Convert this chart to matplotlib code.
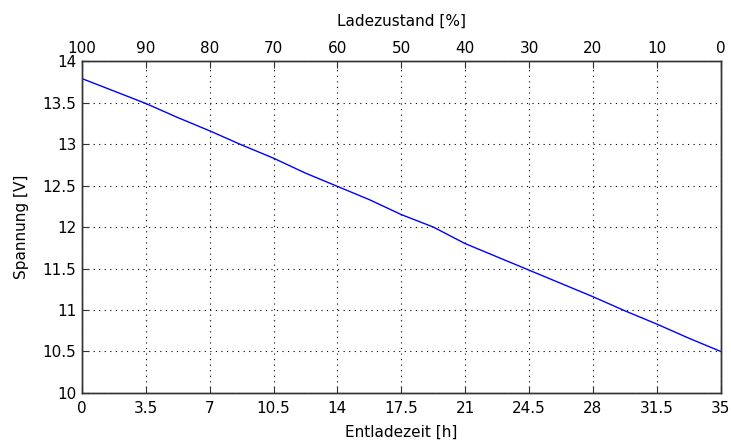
import numpy as np
import matplotlib.pyplot as plt

# Entladekurve
zeit_h = [0, 1.75, 3.5, 5.25, 7, 8.75, 10.5, 12.25, 14, 15.75, 17.5,
          19.25, 21, 22.75, 24.5, 26.25, 28, 29.75, 31.5, 33.25, 35]
spannung_v = [13.79, 13.64, 13.49, 13.32, 13.16, 12.99, 12.83, 12.65, 12.49, 12.33, 12.15,
              12.00, 11.80, 11.64, 11.48, 11.32, 11.16, 10.99, 10.83, 10.66, 10.50]

x_ticks = [0, 3.5, 7, 10.5, 14, 17.5, 21, 24.5, 28, 31.5, 35]
x_ticklabels = ["0", "3.5", "7", "10.5", "14", "17.5", "21", "24.5", "28", "31.5", "35"]
y_ticks = [10, 10.5, 11, 11.5, 12, 12.5, 13, 13.5, 14]
y_ticklabels = ["10", "10.5", "11", "11.5", "12", "12.5", "13", "13.5", "14"]
soc_ticks = [100, 90, 80, 70, 60, 50, 40, 30, 20, 10, 0]

plt.rcParams['font.family'] = ['DejaVu Sans']

fig = plt.figure(figsize=(7.31, 4.43), dpi=100)
ax = fig.add_axes([0.112, 0.113, 0.874, 0.749])

ax.plot(zeit_h, spannung_v, color='#0000ff', linewidth=1.0)
ax.set_xlim(0, 35)
ax.set_ylim(10, 14)
ax.set_xticks(x_ticks)
ax.set_xticklabels(x_ticklabels)
ax.set_yticks(y_ticks)
ax.set_yticklabels(y_ticklabels)
ax.grid(True, linestyle=(0, (1, 4)), color='black', linewidth=0.8)
ax.tick_params(direction='in', length=5, labelsize=11, color='#333333')
ax.tick_params(axis='x', pad=6)
ax.tick_params(axis='y', pad=4)
ax.set_xlabel("Entladezeit [h]", fontsize=11, labelpad=6)
ax.set_ylabel("Spannung [V]", fontsize=11, labelpad=10)
for s in ax.spines.values():
    s.set_color('#333333')
    s.set_linewidth(1.0)

ax2 = ax.twiny()
ax2.set_xlim(100, 0)
ax2.set_xticks(soc_ticks)
ax2.tick_params(direction='in', length=5, labelsize=11, pad=4, color='#333333')
ax2.set_xlabel("Ladezustand [%]", fontsize=11, labelpad=11)
for s in ax2.spines.values():
    s.set_color('#333333')
    s.set_linewidth(1.0)

fig.savefig("out.png", dpi=100)
